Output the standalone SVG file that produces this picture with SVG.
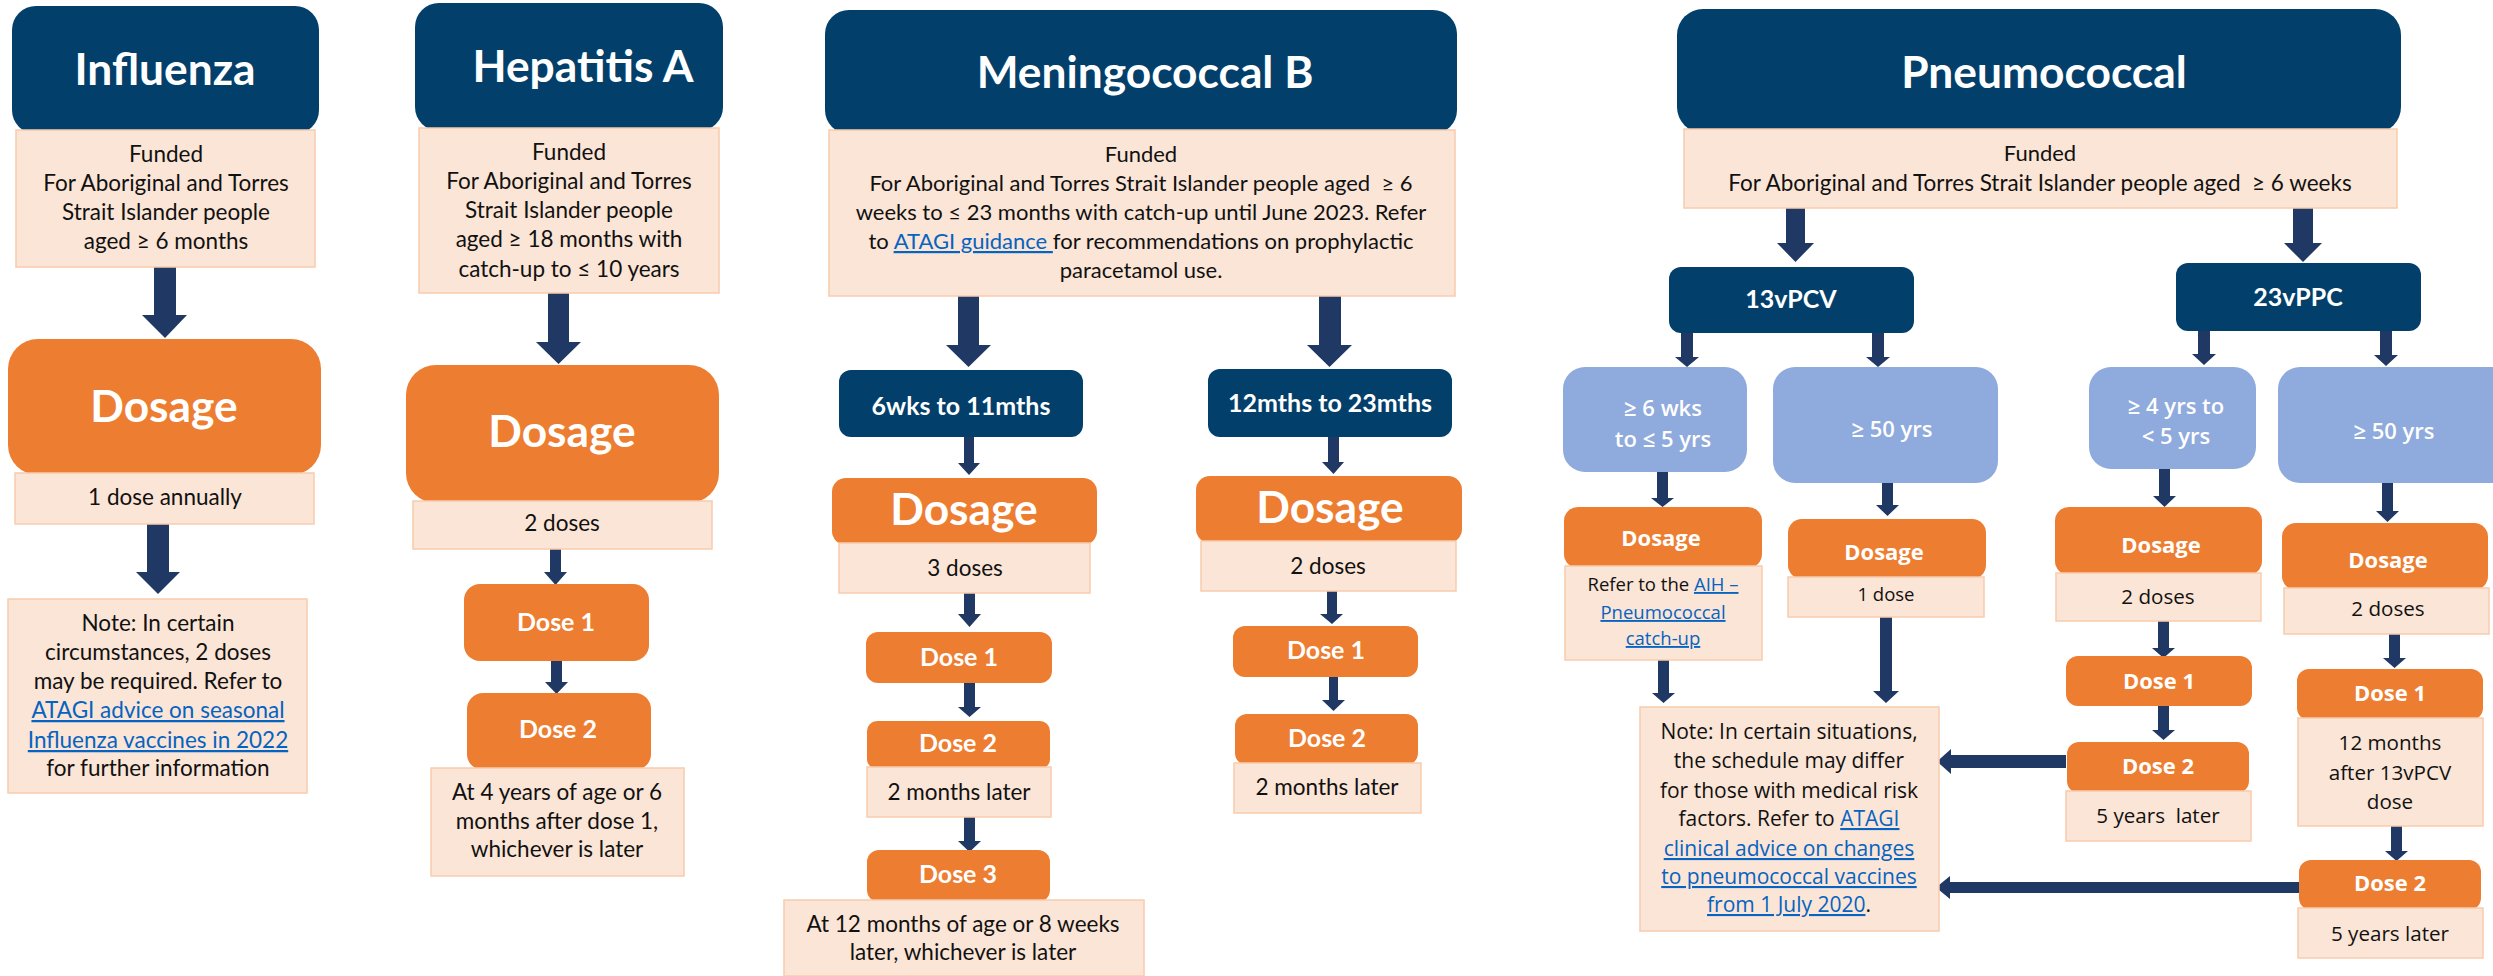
<svg xmlns="http://www.w3.org/2000/svg" width="2493" height="976" viewBox="0 0 2493 976">
<style>
.hdr{fill:#033F6B}
.pe{fill:#FBE5D6;stroke:#F8CBAD;stroke-width:1.5}
.or{fill:#ED7D31}
.lb{fill:#8FAADC}
.ar{fill:#203864}
text{text-anchor:middle}
.ttl{font-family:Lato,"Liberation Sans",sans-serif;font-weight:700;font-size:44.3px;fill:#fff}
.ds{font-family:Lato,"Liberation Sans",sans-serif;font-weight:700;font-size:44.3px;fill:#fff}
.dz{font-family:Lato,"Liberation Sans",sans-serif;font-weight:700;font-size:25px;fill:#fff}
.bt{font-family:Lato,"Liberation Sans",sans-serif;font-size:22.5px;fill:#111}
.mt{font-family:Lato,"Liberation Sans",sans-serif;font-size:22px;fill:#111}
.pw{font-family:"Open Sans","Liberation Sans",sans-serif;font-weight:600;font-size:22px;fill:#fff}
.pb{font-family:"Open Sans","Liberation Sans",sans-serif;font-weight:700;font-size:22px;fill:#fff}
.pt{font-family:"Open Sans","Liberation Sans",sans-serif;font-size:20.6px;fill:#111}
.ps{font-family:"Open Sans","Liberation Sans",sans-serif;font-size:18.5px;fill:#111}
.pn{font-family:"Open Sans","Liberation Sans",sans-serif;font-size:21px;fill:#111}
.lk{fill:#0563C1;text-decoration:underline}
</style>

<g id="connectors">
<polygon class="ar" points="154,267 176,267 176,315 187,315 165,338 142,315 154,315"/>
<polygon class="ar" points="147,524 169,524 169,572 180,572 158,594 136,572 147,572"/>
<polygon class="ar" points="548,293 569,293 569,342 581,342 558.5,364 536,342 548,342"/>
<polygon class="ar" points="550,549 561,549 561,572 567,572 555.5,585 544,572 550,572"/>
<polygon class="ar" points="551,661 562,661 562,682 568,682 556.5,694 545,682 551,682"/>
<polygon class="ar" points="958,296 979,296 979,345 991,345 968.5,367 946,345 958,345"/>
<polygon class="ar" points="1319,296 1341,296 1341,345 1352,345 1329.5,367 1307,345 1319,345"/>
<polygon class="ar" points="964,437 974,437 974,463 980,463 969,475 958,463 964,463"/>
<polygon class="ar" points="1328,437 1339,437 1339,462 1344,462 1333.5,474 1322,462 1328,462"/>
<polygon class="ar" points="964,593 975,593 975,614 981,614 969.5,627 958,614 964,614"/>
<polygon class="ar" points="964,683 975,683 975,707 981,707 969.5,717 958,707 964,707"/>
<polygon class="ar" points="964,817 975,817 975,841 981,841 969.5,852 958,841 964,841"/>
<polygon class="ar" points="1327,591 1337,591 1337,614 1343,614 1332,624 1320,614 1327,614"/>
<polygon class="ar" points="1329,677 1338,677 1338,700 1345,700 1333.5,711 1322,700 1329,700"/>
<polygon class="ar" points="1786,208 1805,208 1805,243 1814,243 1795.5,262 1777,243 1786,243"/>
<polygon class="ar" points="2293,208 2313,208 2313,243 2322,243 2303,262 2284,243 2293,243"/>
<polygon class="ar" points="1681,333 1693,333 1693,357 1699,357 1687,367 1675,357 1681,357"/>
<polygon class="ar" points="1872,333 1884,333 1884,357 1890,357 1878,367 1866,357 1872,357"/>
<polygon class="ar" points="2198,331 2210,331 2210,354 2216,354 2204,365 2192,354 2198,354"/>
<polygon class="ar" points="2380,331 2392,331 2392,355 2398,355 2386,366 2374,355 2380,355"/>
<polygon class="ar" points="1657,472 1668,472 1668,498 1674,498 1662.5,507 1651,498 1657,498"/>
<polygon class="ar" points="1882,483 1893,483 1893,505 1899,505 1887.5,516 1876,505 1882,505"/>
<polygon class="ar" points="1658,660 1669,660 1669,693 1675,693 1663.5,703 1652,693 1658,693"/>
<polygon class="ar" points="1880,617 1892,617 1892,691 1899,691 1886,703 1873,691 1880,691"/>
<polygon class="ar" points="2159,469 2170,469 2170,496 2176,496 2164.5,507 2153,496 2159,496"/>
<polygon class="ar" points="2158,621 2169,621 2169,648 2175,648 2163.5,658 2152,648 2158,648"/>
<polygon class="ar" points="2158,706 2169,706 2169,730 2175,730 2163.5,740 2152,730 2158,730"/>
<polygon class="ar" points="2382,483 2393,483 2393,511 2399,511 2387.5,522 2376,511 2382,511"/>
<polygon class="ar" points="2389,634 2400,634 2400,658 2406,658 2394.5,668 2383,658 2389,658"/>
<polygon class="ar" points="2391,826 2402,826 2402,851 2408,851 2396.5,861 2385,851 2391,851"/>
<polygon class="ar" points="2066,755 1951,755 1951,749 1937,761.5 1951,774 1951,768 2066,768"/>
<polygon class="ar" points="2300,882 1950,882 1950,876 1936,887.5 1950,899 1950,893 2300,893"/>
</g>

<g id="influenza-header"><rect class="hdr" x="12" y="6" width="307" height="128" rx="24"/><text class="ttl" x="165" y="85">Influenza</text></g>
<g id="influenza-funded"><rect class="pe" x="16" y="130" width="299" height="137"/>
<text class="bt" x="166" y="162">Funded</text><text class="bt" x="166" y="191">For Aboriginal and Torres</text><text class="bt" x="166" y="220">Strait Islander people</text><text class="bt" x="166" y="249">aged ≥ 6 months</text></g>
<g id="influenza-dosage"><rect class="or" x="8" y="339" width="313" height="136" rx="30"/><text class="ds" x="164" y="422">Dosage</text></g>
<g id="influenza-dose-text"><rect class="pe" x="15" y="473" width="299" height="51"/><text class="bt" x="165" y="505">1 dose annually</text></g>
<g id="influenza-note"><rect class="pe" x="8" y="599" width="299" height="194"/>
<text class="bt" x="158" y="631">Note: In certain</text><text class="bt" x="158" y="660">circumstances, 2 doses</text><text class="bt" x="158" y="689">may be required. Refer to</text><text class="bt lk" x="158" y="718">ATAGI advice on seasonal</text><text class="bt lk" x="158" y="748">Influenza vaccines in 2022</text><text class="bt" x="158" y="776">for further information</text></g>

<g id="hepa-header"><rect class="hdr" x="415" y="3" width="308" height="128" rx="24"/><text class="ttl" x="583" y="82">Hepatitis A</text></g>
<g id="hepa-funded"><rect class="pe" x="419" y="128" width="300" height="165"/>
<text class="bt" x="569" y="160">Funded</text><text class="bt" x="569" y="189">For Aboriginal and Torres</text><text class="bt" x="569" y="218">Strait Islander people</text><text class="bt" x="569" y="247">aged ≥ 18 months with</text><text class="bt" x="569" y="277">catch-up to ≤ 10 years</text></g>
<g id="hepa-dosage"><rect class="or" x="406" y="365" width="313" height="138" rx="30"/><text class="ds" x="562" y="447">Dosage</text></g>
<g id="hepa-doses"><rect class="pe" x="413" y="501" width="299" height="48"/><text class="bt" x="562" y="531">2 doses</text></g>
<g id="hepa-dose1"><rect class="or" x="464" y="584" width="185" height="77" rx="16"/><text class="dz" x="556" y="631">Dose 1</text></g>
<g id="hepa-dose2"><rect class="or" x="467" y="693" width="184" height="77" rx="16"/><text class="dz" x="558" y="738">Dose 2</text></g>
<g id="hepa-dose2-text"><rect class="pe" x="431" y="768" width="253" height="108"/>
<text class="bt" x="557" y="800">At 4 years of age or 6</text><text class="bt" x="557" y="829">months after dose 1,</text><text class="bt" x="557" y="857">whichever is later</text></g>

<g id="menb-header"><rect class="hdr" x="825" y="10" width="632" height="124" rx="24"/><text class="ttl" x="1145" y="88">Meningococcal B</text></g>
<g id="menb-funded"><rect class="pe" x="829" y="130" width="626" height="166"/>
<text class="mt" x="1141" y="162">Funded</text>
<text class="mt" x="1141" y="191" xml:space="preserve">For Aboriginal and Torres Strait Islander people aged  ≥ 6</text>
<text class="mt" x="1141" y="220">weeks to ≤ 23 months with catch-up until June 2023. Refer</text>
<text class="mt" x="1141" y="249">to <tspan class="lk">ATAGI guidance </tspan>for recommendations on prophylactic</text>
<text class="mt" x="1141" y="278">paracetamol use.</text></g>
<g id="menb-6wks"><rect class="hdr" x="839" y="370" width="244" height="67" rx="12"/><text class="dz" x="961" y="415">6wks to 11mths</text></g>
<g id="menb-12mths"><rect class="hdr" x="1208" y="369" width="244" height="68" rx="12"/><text class="dz" x="1330" y="412">12mths to 23mths</text></g>
<g id="menb-dosage-a"><rect class="or" x="832" y="478" width="265" height="67" rx="14"/><text class="ds" x="964" y="525">Dosage</text></g>
<g id="menb-doses-a"><rect class="pe" x="839" y="543" width="251" height="50"/><text class="bt" x="965" y="576">3 doses</text></g>
<g id="menb-dose1-a"><rect class="or" x="866" y="632" width="186" height="51" rx="12"/><text class="dz" x="959" y="666">Dose 1</text></g>
<g id="menb-dose2-a"><rect class="or" x="867" y="721" width="183" height="48" rx="10"/><text class="dz" x="958" y="752">Dose 2</text></g>
<g id="menb-dose2-a-text"><rect class="pe" x="867" y="767" width="184" height="50"/><text class="bt" x="959" y="800">2 months later</text></g>
<g id="menb-dose3-a"><rect class="or" x="867" y="850" width="183" height="52" rx="12"/><text class="dz" x="958" y="883">Dose 3</text></g>
<g id="menb-dose3-a-text"><rect class="pe" x="784" y="900" width="360" height="76"/>
<text class="bt" x="963" y="932">At 12 months of age or 8 weeks</text><text class="bt" x="963" y="960">later, whichever is later</text></g>
<g id="menb-dosage-b"><rect class="or" x="1196" y="476" width="266" height="67" rx="14"/><text class="ds" x="1330" y="523">Dosage</text></g>
<g id="menb-doses-b"><rect class="pe" x="1201" y="541" width="255" height="50"/><text class="bt" x="1328" y="574">2 doses</text></g>
<g id="menb-dose1-b"><rect class="or" x="1233" y="626" width="185" height="51" rx="12"/><text class="dz" x="1326" y="659">Dose 1</text></g>
<g id="menb-dose2-b"><rect class="or" x="1235" y="714" width="183" height="51" rx="12"/><text class="dz" x="1327" y="747">Dose 2</text></g>
<g id="menb-dose2-b-text"><rect class="pe" x="1234" y="763" width="187" height="50"/><text class="bt" x="1327" y="795">2 months later</text></g>

<g id="pneu-header"><rect class="hdr" x="1677" y="9" width="724" height="124" rx="26"/><text class="ttl" x="2044" y="88">Pneumococcal</text></g>
<g id="pneu-funded"><rect class="pe" x="1684" y="129" width="713" height="79"/>
<text class="mt" x="2040" y="161">Funded</text><text class="mt" x="2040" y="191" xml:space="preserve" style="font-size:22.5px">For Aboriginal and Torres Strait Islander people aged  ≥ 6 weeks</text></g>
<g id="pneu-13vpcv"><rect class="hdr" x="1669" y="267" width="245" height="66" rx="12"/><text class="dz" x="1791" y="308">13vPCV</text></g>
<g id="pneu-23vppc"><rect class="hdr" x="2176" y="263" width="245" height="68" rx="12"/><text class="dz" x="2298" y="306">23vPPC</text></g>
<g id="pneu-6wks"><rect class="lb" x="1563" y="367" width="184" height="105" rx="22"/><text class="pw" x="1663" y="416">≥ 6 wks</text><text class="pw" x="1663" y="447">to ≤ 5 yrs</text></g>
<g id="pneu-50a"><rect class="lb" x="1773" y="367" width="225" height="116" rx="22"/><text class="pw" x="1892" y="437">≥ 50 yrs</text></g>
<g id="pneu-4yrs"><rect class="lb" x="2089" y="367" width="167" height="102" rx="22"/><text class="pw" x="2176" y="414">≥ 4 yrs to</text><text class="pw" x="2176" y="444">&lt; 5 yrs</text></g>
<g id="pneu-50b"><rect class="lb" x="2278" y="367" width="240" height="116" rx="22"/><text class="pw" x="2394" y="439">≥ 50 yrs</text></g>
<g id="pneu-dosage-a"><rect class="or" x="1564" y="507" width="198" height="61" rx="14"/><text class="pb" x="1661" y="546">Dosage</text></g>
<g id="pneu-dosage-a-text"><rect class="pe" x="1565" y="566" width="197" height="94"/>
<text class="ps" x="1663" y="591">Refer to the <tspan class="lk">AIH –</tspan></text><text class="ps lk" x="1663" y="619">Pneumococcal</text><text class="ps lk" x="1663" y="645">catch-up</text></g>
<g id="pneu-dosage-b"><rect class="or" x="1788" y="519" width="198" height="60" rx="14"/><text class="pb" x="1884" y="560">Dosage</text></g>
<g id="pneu-dosage-b-text"><rect class="pe" x="1788" y="577" width="196" height="40"/><text class="ps" x="1886" y="601">1 dose</text></g>
<g id="pneu-note"><rect class="pe" x="1640" y="707" width="299" height="224"/>
<text class="pn" x="1789" y="739">Note: In certain situations,</text>
<text class="pn" x="1789" y="768">the schedule may differ</text>
<text class="pn" x="1789" y="798">for those with medical risk</text>
<text class="pn" x="1789" y="826">factors. Refer to <tspan class="lk">ATAGI</tspan></text>
<text class="pn lk" x="1789" y="856">clinical advice on changes</text>
<text class="pn lk" x="1789" y="884">to pneumococcal vaccines</text>
<text class="pn" x="1789" y="912"><tspan class="lk">from 1 July 2020</tspan>.</text></g>
<g id="pneu-dosage-c"><rect class="or" x="2055" y="507" width="207" height="68" rx="14"/><text class="pb" x="2161" y="553">Dosage</text></g>
<g id="pneu-dosage-c-text"><rect class="pe" x="2056" y="573" width="205" height="48"/><text class="pt" x="2158" y="604">2 doses</text></g>
<g id="pneu-dose1-c"><rect class="or" x="2066" y="656" width="186" height="50" rx="12"/><text class="pb" x="2159" y="689">Dose 1</text></g>
<g id="pneu-dose2-c"><rect class="or" x="2067" y="742" width="182" height="51" rx="12"/><text class="pb" x="2158" y="774">Dose 2</text></g>
<g id="pneu-dose2-c-text"><rect class="pe" x="2066" y="791" width="185" height="50"/><text class="pt" x="2158" y="823" xml:space="preserve">5 years  later</text></g>
<g id="pneu-dosage-d"><rect class="or" x="2282" y="523" width="206" height="67" rx="14"/><text class="pb" x="2388" y="568">Dosage</text></g>
<g id="pneu-dosage-d-text"><rect class="pe" x="2284" y="588" width="205" height="46"/><text class="pt" x="2388" y="616">2 doses</text></g>
<g id="pneu-dose1-d"><rect class="or" x="2297" y="669" width="186" height="51" rx="12"/><text class="pb" x="2390" y="701">Dose 1</text></g>
<g id="pneu-dose1-d-text"><rect class="pe" x="2298" y="718" width="185" height="108"/>
<text class="pt" x="2390" y="750">12 months</text><text class="pt" x="2390" y="780">after 13vPCV</text><text class="pt" x="2390" y="809">dose</text></g>
<g id="pneu-dose2-d"><rect class="or" x="2299" y="860" width="182" height="50" rx="12"/><text class="pb" x="2390" y="891">Dose 2</text></g>
<g id="pneu-dose2-d-text"><rect class="pe" x="2298" y="908" width="185" height="50"/><text class="pt" x="2390" y="941">5 years later</text></g>
</svg>
